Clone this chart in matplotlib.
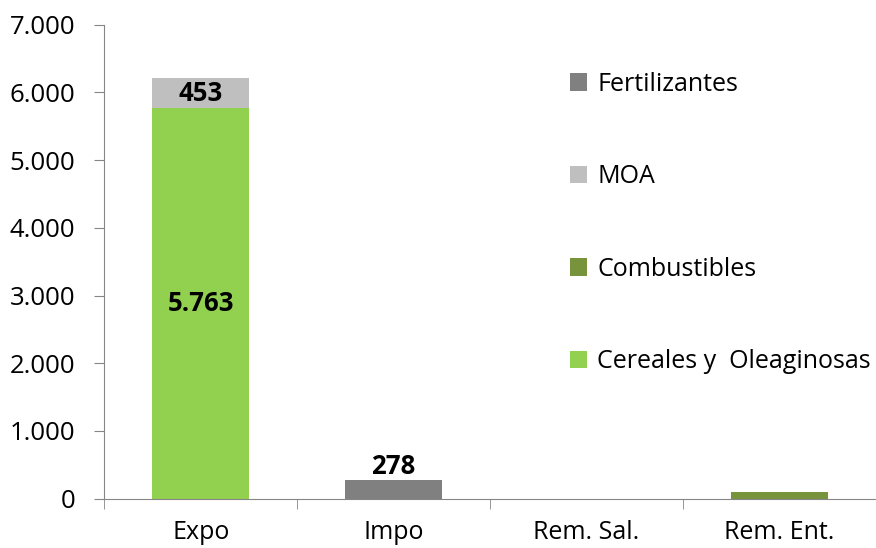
import matplotlib
matplotlib.use("Agg")
import matplotlib.pyplot as plt
import numpy as np

plt.rcParams["font.family"] = ["Open Sans", "DejaVu Sans"]

# Datos
categorias = ["Expo", "Impo", "Rem. Sal.", "Rem. Ent."]
cereales = [5763, 0, 0, 0]
combustibles = [0, 0, 0, 100]
moa = [453, 0, 0, 0]
fertilizantes = [0, 278, 0, 0]

series = [
    ("Cereales y  Oleaginosas", cereales, "#92d050"),
    ("Combustibles", combustibles, "#77933c"),
    ("MOA", moa, "#bfbfbf"),
    ("Fertilizantes", fertilizantes, "#808080"),
]

fig, ax = plt.subplots(figsize=(8.76, 5.48), dpi=100)
fig.subplots_adjust(left=0.119, right=1.0, top=0.955, bottom=0.09)

x = np.arange(len(categorias))
base = np.zeros(len(categorias))
handles = []
for nombre, vals, color in series:
    vals = np.array(vals, dtype=float)
    b = ax.bar(x, vals, width=0.5, bottom=base, color=color, label=nombre)
    handles.append(b)
    base = base + vals

# Etiquetas de valores
ax.text(x[0], cereales[0] / 2, "5.763", ha="center", va="center",
        fontsize=18.5, fontweight="bold")
ax.text(x[0], cereales[0] + moa[0] / 2, "453", ha="center", va="center",
        fontsize=18.5, fontweight="bold")
ax.text(x[1], fertilizantes[1], "278", ha="center", va="bottom",
        fontsize=18.5, fontweight="bold")

ax.set_xlim(-0.5, 3.5)
ax.set_ylim(0, 7000)
ax.set_yticks(range(0, 7001, 1000))
ax.set_yticklabels([f"{v:,}".replace(",", ".") for v in range(0, 7001, 1000)])
ax.set_xticks(x)
ax.set_xticklabels(categorias)
ax.set_xticks(np.arange(-0.5, 4, 1), minor=True)

for s in ["top", "right"]:
    ax.spines[s].set_visible(False)
ax.spines["left"].set_color("#868686")
ax.spines["bottom"].set_color("#868686")
ax.tick_params(axis="y", labelsize=18.5, color="#868686", length=7, pad=14)
ax.tick_params(axis="x", which="major", length=0, labelsize=18, pad=15)
ax.tick_params(axis="x", which="minor", length=7, color="#868686")

leg = ax.legend(handles[::-1], [s[0] for s in series][::-1],
                loc="upper left", bbox_to_anchor=(0.574, 0.948),
                frameon=False, fontsize=18, labelspacing=2.7,
                handlelength=0.7, handleheight=0.7, handletextpad=0.4)

plt.savefig("out.png", dpi=100)
